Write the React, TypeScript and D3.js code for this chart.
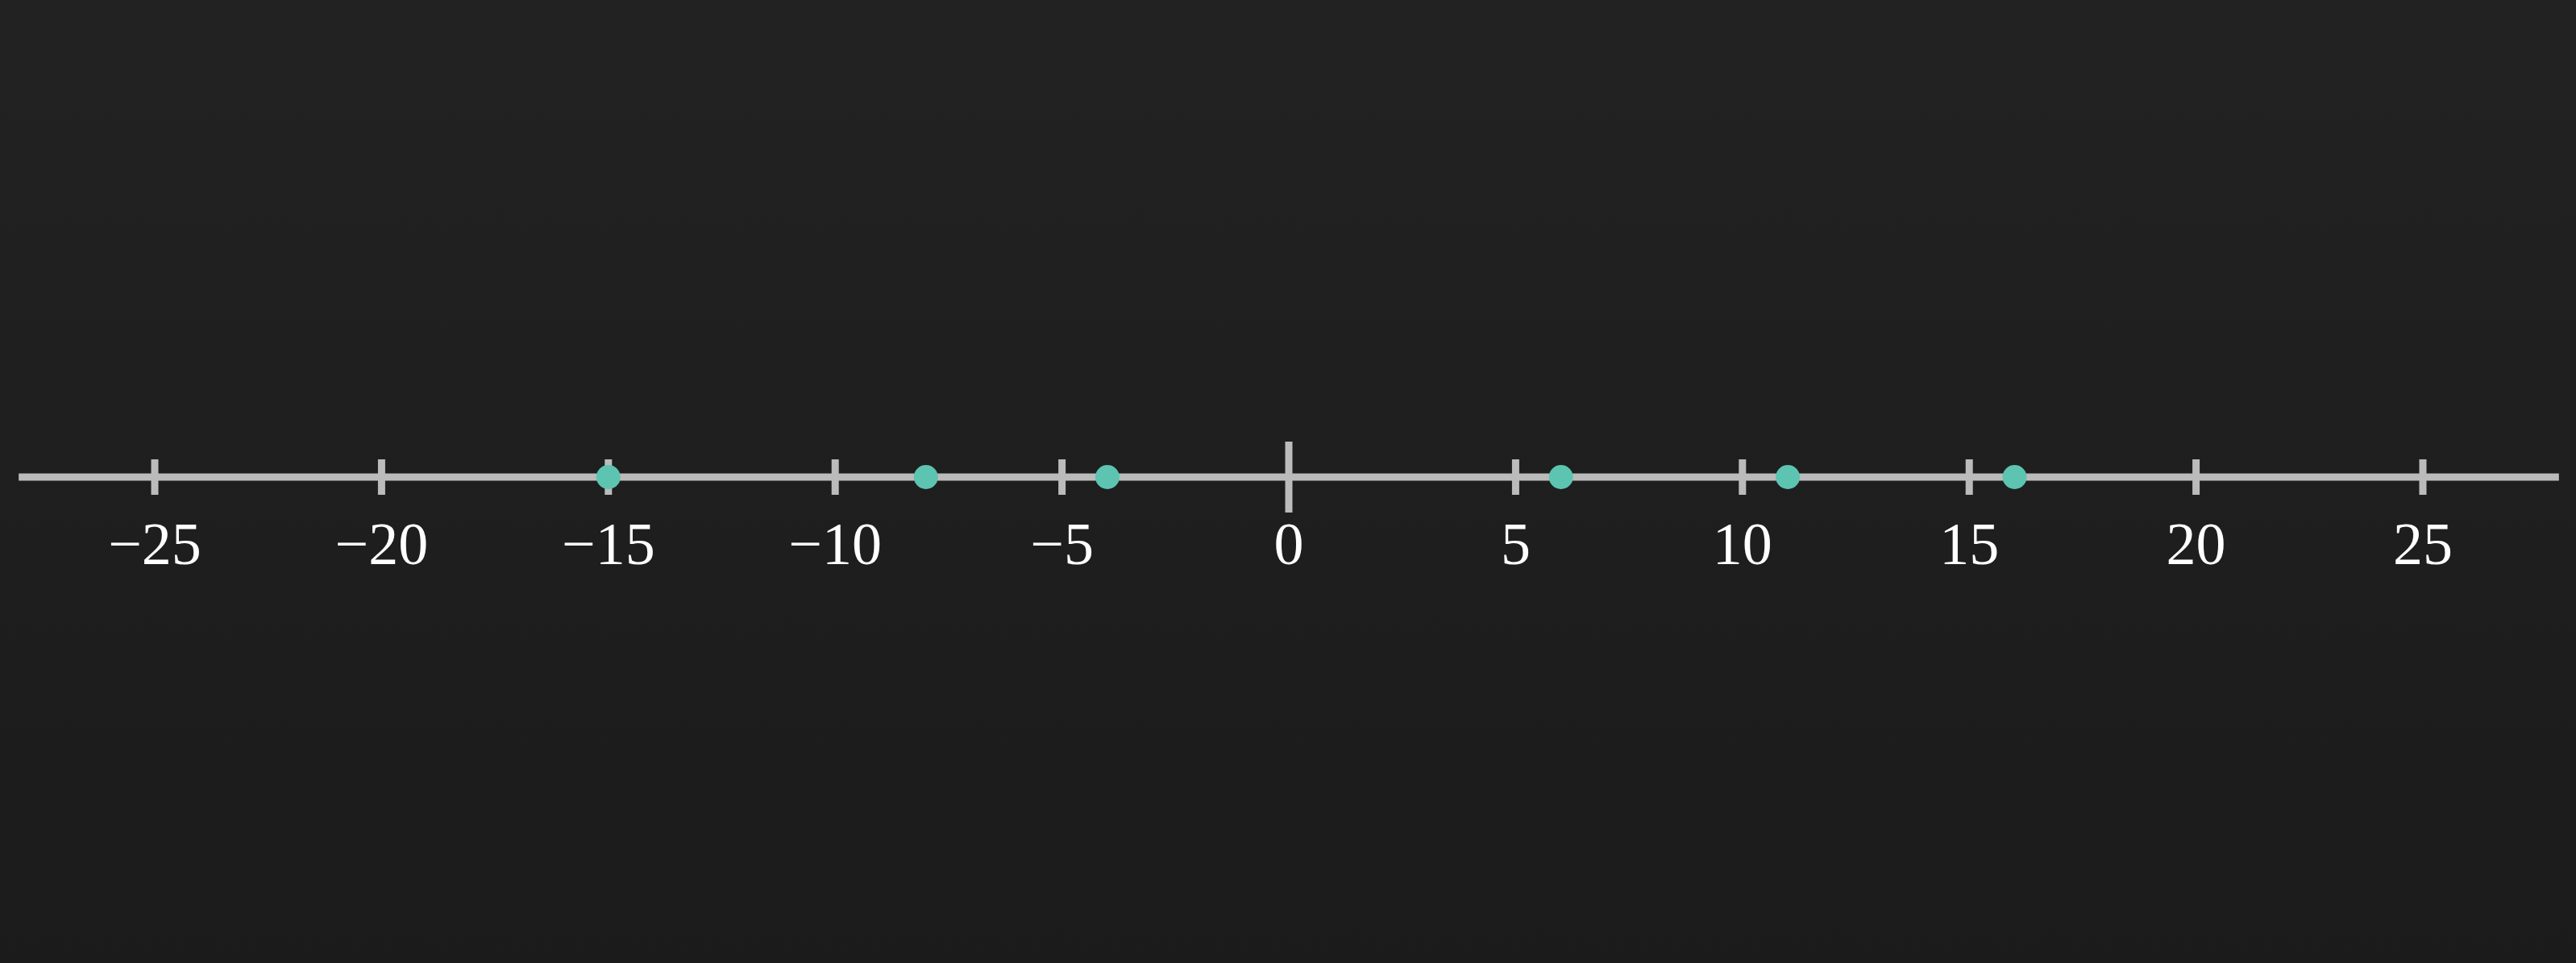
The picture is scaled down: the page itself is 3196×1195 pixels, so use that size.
import React from 'react'
import * as d3 from 'd3'

// number line values
const tickValues = [-25, -20, -15, -10, -5, 0, 5, 10, 15, 20, 25]
const tickLabels = ['−25', '−20', '−15', '−10', '−5', '0', '5', '10', '15', '20', '25']
const pointValues = [-15, -8, -4, 6, 11, 16]
const axisRange = [-28, 28]

const W = 3196
const H = 1195

const App = () => {
    // set the scale (domain -> pixels)
    const x = d3.scaleLinear().domain([-25, 25]).range([192, 3006])
    const axisY = 592

    const lineColor = '#bbbbbb'
    const dotColor = '#5cc4b0'

    return (
        <div style={{ position: 'absolute', left: 0, top: 0 }}>
            <svg width={W} height={H} style={{ display: 'block' }}>
                <defs>
                    <linearGradient id="bg" x1="0" y1="0" x2="0" y2="1">
                        <stop offset="0" stopColor="#222222" />
                        <stop offset="1" stopColor="#1b1b1b" />
                    </linearGradient>
                </defs>
                <rect x={0} y={0} width={W} height={H} fill="url(#bg)" />

                {/* main axis */}
                <line
                    x1={x(axisRange[0])}
                    x2={x(axisRange[1])}
                    y1={axisY}
                    y2={axisY}
                    stroke={lineColor}
                    strokeWidth={9}
                />

                {/* ticks + labels */}
                {tickValues.map((v, i) => {
                    const half = v === 0 ? 44 : 22
                    return (
                        <g key={v}>
                            <line
                                x1={x(v)}
                                x2={x(v)}
                                y1={axisY - half}
                                y2={axisY + half}
                                stroke={lineColor}
                                strokeWidth={9}
                            />
                            <text
                                x={x(v)}
                                y={700}
                                textAnchor="middle"
                                fill="#ffffff"
                                fontFamily="'Liberation Serif', 'DejaVu Serif', serif"
                                fontSize={74}
                            >
                                {tickLabels[i]}
                            </text>
                        </g>
                    )
                })}

                {/* points */}
                {pointValues.map((v) => (
                    <circle key={v} cx={x(v)} cy={axisY} r={15} fill={dotColor} />
                ))}
            </svg>
        </div>
    )
}

export default App
